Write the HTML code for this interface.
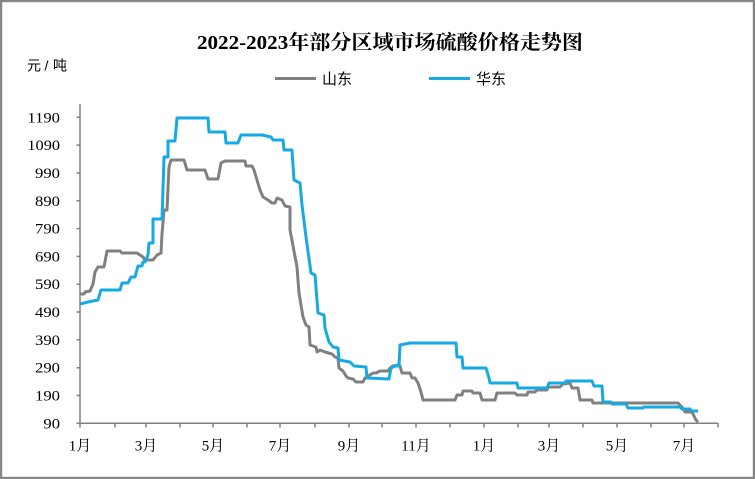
<!DOCTYPE html>
<html><head><meta charset="utf-8"><style>
html,body{margin:0;padding:0;background:#fff;}
svg{display:block;}
</style></head><body>
<svg width="755" height="479" viewBox="0 0 755 479" xmlns="http://www.w3.org/2000/svg">
<rect x="1" y="1" width="753" height="477" fill="#fff" stroke="#868686" stroke-width="2.4"/>
<text x="390" y="49" text-anchor="middle" font-family="Liberation Serif, Noto Serif CJK SC, serif" font-weight="bold" font-size="20" textLength="386" lengthAdjust="spacingAndGlyphs" fill="#000">2022-2023年部分区域市场硫酸价格走势图</text>
<text x="27 44.5 53" y="70.5" font-family="Liberation Sans, Noto Sans CJK SC, sans-serif" font-size="14" fill="#000">元/吨</text>
<line x1="275" y1="78.5" x2="316" y2="78.5" stroke="#808080" stroke-width="3"/>
<text x="322" y="84" font-family="Liberation Sans, Noto Sans CJK SC, sans-serif" font-size="15" fill="#000">山东</text>
<line x1="429" y1="78.5" x2="470" y2="78.5" stroke="#17a9e1" stroke-width="3"/>
<text x="476" y="84" font-family="Liberation Sans, Noto Sans CJK SC, sans-serif" font-size="15" fill="#000">华东</text>
<g stroke="#808080" stroke-width="1.5" fill="none">
<line x1="80" y1="104" x2="80" y2="424"/>
<line x1="79.3" y1="423.3" x2="718" y2="423.3"/>
<path d="M76.5 423.3H80M76.5 395.5H80M76.5 367.7H80M76.5 339.8H80M76.5 312H80M76.5 284.2H80M76.5 256.4H80M76.5 228.6H80M76.5 200.8H80M76.5 173H80M76.5 145.1H80M76.5 117.3H80"/>
<path d="M80 423V427.5M115 423V427.5M146 423V427.5M180 423V427.5M213 423V427.5M247 423V427.5M280 423V427.5M315 423V427.5M349 423V427.5M382 423V427.5M416 423V427.5M450 423V427.5M484 423V427.5M518 423V427.5M549 423V427.5M583 423V427.5M617 423V427.5M651 423V427.5M684 423V427.5M718 423V427.5"/>
</g>
<g font-family="Liberation Serif, serif" font-size="14.5" fill="#000" text-anchor="end">
<text x="60" y="428.3" textLength="16.6" lengthAdjust="spacingAndGlyphs">90</text>
<text x="60" y="400.5" textLength="25" lengthAdjust="spacingAndGlyphs">190</text>
<text x="60" y="372.7" textLength="25" lengthAdjust="spacingAndGlyphs">290</text>
<text x="60" y="344.8" textLength="25" lengthAdjust="spacingAndGlyphs">390</text>
<text x="60" y="317" textLength="25" lengthAdjust="spacingAndGlyphs">490</text>
<text x="60" y="289.2" textLength="25" lengthAdjust="spacingAndGlyphs">590</text>
<text x="60" y="261.4" textLength="25" lengthAdjust="spacingAndGlyphs">690</text>
<text x="60" y="233.6" textLength="25" lengthAdjust="spacingAndGlyphs">790</text>
<text x="60" y="205.8" textLength="25" lengthAdjust="spacingAndGlyphs">890</text>
<text x="60" y="178" textLength="25" lengthAdjust="spacingAndGlyphs">990</text>
<text x="60" y="150.1" textLength="32.6" lengthAdjust="spacingAndGlyphs">1090</text>
<text x="60" y="122.3" textLength="32.6" lengthAdjust="spacingAndGlyphs">1190</text>
</g>
<g font-family="Liberation Serif, Noto Serif CJK SC, serif" font-size="15" fill="#000" text-anchor="middle">
<text x="80" y="450.5">1月</text>
<text x="146" y="450.5">3月</text>
<text x="213" y="450.5">5月</text>
<text x="280" y="450.5">7月</text>
<text x="349" y="450.5">9月</text>
<text x="416" y="450.5">11月</text>
<text x="484" y="450.5">1月</text>
<text x="549" y="450.5">3月</text>
<text x="617" y="450.5">5月</text>
<text x="684" y="450.5">7月</text>
</g>
<polyline fill="none" stroke="#808080" stroke-width="3" stroke-linejoin="round" points="80,294 84,294 85,292 90,291 93,284 95,272 98,267 104,267 107,251 120,251 122,253 137,253 140,255 143,257 145,260 153,260 157,255 161,253 162,234 164,210 167,210 169,167 171,160 184,160 187,170 205,170 208,179 218,179 221,163 225,161 245,161 246,166 252,166 254,170 257,180 260,190 263,197 268,200 272,203 275,203 277,198 282,200 285,206 290,207 290,230 297,267 299,293 303,317 306,325 309,327 310,345 316,347 317,352 320,350 325,352 332,354 335,357 338,358 339,368 343,371 346,376 348,378 353,379 356,382 363,382 365,378 370,375 373,373 376,373 380,371 388,371 390,368 393,366 398,365 400,366 402,373 410,373 412,378 415,378 418,383 421,392 423,400 455,400 457,395 462,395 463,391 472,391 473,393 480,393 482,400 495,400 497,393 515,393 517,395 527,395 528,392 535,392 537,390 547,390 548,387 560,387 563,384 570,383 572,388 578,388 580,400 592,400 593,403 678,403 682,407 685,412 692,412 696,420 698,422"/>
<polyline fill="none" stroke="#17a9e1" stroke-width="3" stroke-linejoin="round" points="80,304 88,302 98,300 101,290 120,290 122,283 128,283 131,277 135,277 138,266 142,266 143,262 145,262 148,255 149,243 153,243 153,219 162,219 164,157 168,157 168,141 175,141 177,118 208,118 209,132 225,132 226,143 238,143 241,135 262,135 271,137 273,140 283,140 284,150 292,150 294,180 300,183 302,205 306,237 311,273 315,275 318,313 324,315 325,328 329,342 333,347 338,348 339,360 350,362 354,366 366,367 367,378 389,379 391,368 395,366 399,366 400,345 410,343 456,343 457,357 462,357 463,368 486,368 489,378 490,383 517,383 518,388 547,388 549,383 565,383 566,381 592,381 594,386 602,386 603,402 611,402 612,404 626,404 628,408 643,408 644,407 680,407 682,409 690,409 692,411 698,411"/>
</svg>
</body></html>
